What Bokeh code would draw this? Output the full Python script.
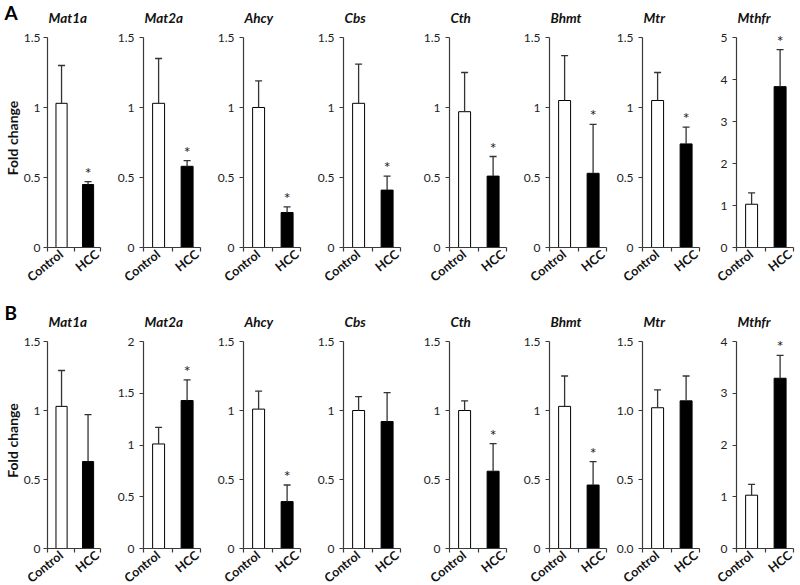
from bokeh.plotting import figure
from bokeh.models import (Range1d, FixedTicker, Whisker, TeeHead, ColumnDataSource,
                          Title, LinearAxis)
from bokeh.layouts import row, column
from bokeh.embed import file_html
from bokeh.resources import INLINE
from bokeh.core.properties import value

# ---------------- data ----------------
genes = ["Mat1a", "Mat2a", "Ahcy", "Cbs", "Cth", "Bhmt", "Mtr", "Mthfr"]
groups = ["Control", "HCC"]
panel_letters = ["A", "B"]
y_label = "Fold change"

a_control = [1.03, 1.03, 1.00, 1.03, 0.97, 1.05, 1.05, 1.03]
a_control_err = [0.27, 0.32, 0.19, 0.28, 0.28, 0.32, 0.20, 0.27]
a_hcc = [0.45, 0.58, 0.25, 0.41, 0.51, 0.53, 0.74, 3.83]
a_hcc_err = [0.02, 0.04, 0.04, 0.10, 0.14, 0.35, 0.12, 0.88]
a_sig = [True, True, True, True, True, True, True, True]
a_ymax = [1.5, 1.5, 1.5, 1.5, 1.5, 1.5, 1.5, 5]
a_yticks = [[0, 0.5, 1, 1.5]] * 7 + [[0, 1, 2, 3, 4, 5]]
a_ytick_labels = [["0", "0.5", "1", "1.5"]] * 7 + [["0", "1", "2", "3", "4", "5"]]

b_control = [1.03, 1.01, 1.01, 1.00, 1.00, 1.03, 1.02, 1.03]
b_control_err = [0.26, 0.16, 0.13, 0.10, 0.07, 0.22, 0.13, 0.21]
b_hcc = [0.63, 1.43, 0.34, 0.92, 0.56, 0.46, 1.07, 3.29]
b_hcc_err = [0.34, 0.20, 0.12, 0.21, 0.20, 0.17, 0.18, 0.44]
b_sig = [False, True, True, False, True, True, False, True]
b_ymax = [1.5, 2, 1.5, 1.5, 1.5, 1.5, 1.5, 4]
b_yticks = ([[0, 0.5, 1, 1.5], [0, 0.5, 1, 1.5, 2]] + [[0, 0.5, 1, 1.5]] * 5
            + [[0, 1, 2, 3, 4]])
b_ytick_labels = ([["0", "0.5", "1", "1.5"], ["0", "0.5", "1", "1.5", "2"]]
                  + [["0", "0.5", "1", "1.5"]] * 4
                  + [["0.0", "0.5", "1.0", "1.5"], ["0", "1", "2", "3", "4"]])

# ---------------- layout / style ----------------
FONT = "Lato"
AXIS_COLOR = "#3a3a3a"
PAGE_H = 585
axis_x = [43, 143, 243, 343, 449, 549, 642, 736]      # canvas x of each y axis
starts = [0] + [ax - 30 for ax in axis_x[1:]]
ends = starts[1:] + [800]
FRAME_W = 57
bar_shift = 0.53
bar_width = 0.42
label_ticks = [0.52, 1.88]
ylabel_span = 1.414          # the y-axis title is centred on half of this

rows_cfg = [
    dict(height=298, top=28, frame=219, ext=9, letter_standoff=-55),
    dict(height=300, top=34, frame=216, ext=9, letter_standoff=-64),
]


def make_panel(r, i, ctrl, ctrl_err, hcc, hcc_err, sig, ymax, yticks, ylabels):
    cfg = rows_cfg[r]
    w = ends[i] - starts[i]
    left = axis_x[i] - starts[i]
    right = w - left - FRAME_W
    bottom = cfg["height"] - cfg["top"] - cfg["frame"]
    axis_span = cfg["frame"] - cfg["ext"]
    y_end = ymax * cfg["frame"] / axis_span

    p = figure(width=w, height=cfg["height"], x_range=Range1d(0, 2),
               y_range=Range1d(0, y_end), output_backend="svg",
               toolbar_location=None,
               min_border_left=left, min_border_right=right,
               min_border_top=cfg["top"], min_border_bottom=bottom)
    p.grid.visible = False
    p.outline_line_color = None

    # gene title
    p.title.text = genes[i]
    p.title.align = "left"
    p.title.offset = 1
    p.title.standoff = 5
    p.title.text_font = FONT
    p.title.text_font_style = "bold italic"
    p.title.text_font_size = "13.5px"
    p.title.text_color = "#111111"

    # y axis
    ya = p.yaxis[0]
    ya.ticker = FixedTicker(ticks=yticks)
    ya.major_label_overrides = {float(t): s for t, s in zip(yticks, ylabels)}
    ya.bounds = (0, ymax)
    ya.axis_line_color = AXIS_COLOR
    ya.axis_line_width = 1.2
    ya.major_tick_line_color = AXIS_COLOR
    ya.major_tick_line_width = 1.2
    ya.major_tick_out = 4
    ya.major_tick_in = 0
    ya.minor_tick_line_color = None
    ya.major_label_standoff = 3 if i == 0 else 5
    ya.major_label_text_font = FONT
    ya.major_label_text_font_size = "12px"
    ya.major_label_text_color = "#222222"
    if i == 0:
        lab = LinearAxis(axis_label=y_label, ticker=FixedTicker(ticks=[]),
                         bounds=(0, ylabel_span), axis_line_color=None,
                         major_tick_line_color=None, minor_tick_line_color=None,
                         major_tick_out=0, minor_tick_out=0,
                         major_label_standoff=0, axis_label_standoff=0,
                         axis_label_text_font=FONT,
                         axis_label_text_font_style="bold",
                         axis_label_text_font_size="14px",
                         axis_label_text_color="#111111")
        p.add_layout(lab, "left")

    # x axis: labels at category centres, tick marks at category boundaries
    xa = p.xaxis[0]
    xa.ticker = FixedTicker(ticks=label_ticks, minor_ticks=[0, 1, 2])
    xa.major_label_overrides = {float(t): g for t, g in zip(label_ticks, groups)}
    xa.major_label_orientation = 0.68
    xa.major_label_standoff = 1
    xa.major_label_text_font = FONT
    xa.major_label_text_font_style = "bold"
    xa.major_label_text_font_size = "12.5px"
    xa.major_label_text_color = "#111111"
    xa.axis_line_color = AXIS_COLOR
    xa.axis_line_width = 1.2
    xa.major_tick_line_color = None
    xa.major_tick_out = 0
    xa.major_tick_in = 0
    xa.minor_tick_line_color = AXIS_COLOR
    xa.minor_tick_line_width = 1.2
    xa.minor_tick_out = 4
    xa.minor_tick_in = 0

    xs = [k + bar_shift for k in range(len(groups))]
    tops = [ctrl, hcc]
    errs = [ctrl_err, hcc_err]
    src = ColumnDataSource(dict(
        x=xs, top=tops, upper=[t + e for t, e in zip(tops, errs)],
        fill=["white", "black"]))

    p.vbar(x="x", top="top", width=bar_width, fill_color="fill",
           line_color="black", line_width=1, source=src)
    p.add_layout(Whisker(source=src, base="x", lower="top", upper="upper",
                         dimension="height", line_color="#333333", line_width=1.3,
                         upper_head=TeeHead(size=7, line_color="#333333",
                                            line_width=1.3),
                         lower_head=None, level="overlay"))
    if sig:
        p.text(x=[xs[1]], y=[hcc + hcc_err], text=["*"], text_align="center",
               text_baseline="bottom", text_font=value(FONT),
               text_font_size="16px", text_color="#222222")

    if i == 0:
        p.add_layout(Title(text=panel_letters[r], align="left", offset=-left,
                           vertical_align="top",
                           standoff=cfg["letter_standoff"], text_font=FONT,
                           text_font_style="bold", text_font_size="19px",
                           text_color="#000000"), "above")
    return p


row_a = [make_panel(0, i, a_control[i], a_control_err[i], a_hcc[i], a_hcc_err[i],
                    a_sig[i], a_ymax[i], a_yticks[i], a_ytick_labels[i])
         for i in range(len(genes))]
row_b = [make_panel(1, i, b_control[i], b_control_err[i], b_hcc[i], b_hcc_err[i],
                    b_sig[i], b_ymax[i], b_yticks[i], b_ytick_labels[i])
         for i in range(len(genes))]

# the lower row's empty bottom margin runs past the page edge and is hidden
layout = column(row(row_a, spacing=0), row(row_b, spacing=0), spacing=0,
                height=PAGE_H, width=800, styles={"overflow": "hidden"})
open("out.html", "w").write(file_html(layout, INLINE))
